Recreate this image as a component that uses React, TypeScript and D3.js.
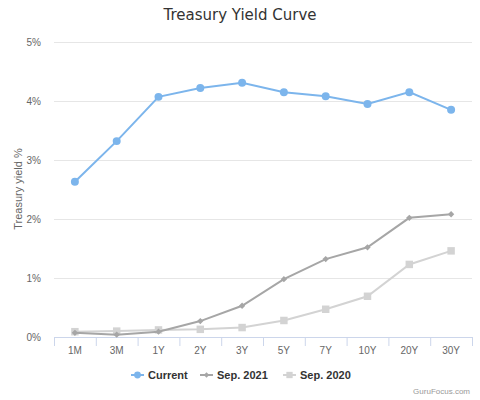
import { useEffect, useRef } from "react"
import * as d3 from "d3"

const maturities = ["1M", "3M", "1Y", "2Y", "3Y", "5Y", "7Y", "10Y", "20Y", "30Y"]
const currentYields = [2.63, 3.32, 4.07, 4.22, 4.31, 4.15, 4.08, 3.95, 4.15, 3.85]
const sep2021Yields = [0.07, 0.04, 0.09, 0.27, 0.53, 0.98, 1.32, 1.52, 2.02, 2.08]
const sep2020Yields = [0.09, 0.1, 0.12, 0.13, 0.16, 0.28, 0.47, 0.69, 1.23, 1.46]
const yTicks = [0, 1, 2, 3, 4, 5]

const TITLE_FONT = "'DejaVu Sans', sans-serif"
const FONT = "'Liberation Sans', Arial, sans-serif"

// Highcharts-like diamond: a square rotated 45 degrees
const diamond = {
  draw(context: any, size: number) {
    const r = Math.sqrt(size) / 2
    context.moveTo(0, -r)
    context.lineTo(r, 0)
    context.lineTo(0, r)
    context.lineTo(-r, 0)
    context.closePath()
  },
}

export default function App() {
  const svgRef = useRef<SVGSVGElement>(null)

  useEffect(() => {
    if (!svgRef.current) return
    d3.select(svgRef.current).selectAll("*").remove()

    const width = 480
    const height = 400
    const margin = { top: 42, right: 8, bottom: 63, left: 54 }
    const plotW = width - margin.left - margin.right
    const plotH = height - margin.top - margin.bottom

    const svg = d3.select(svgRef.current).attr("width", width).attr("height", height)

    svg.append("rect").attr("width", width).attr("height", height).attr("fill", "#ffffff")

    // Title
    svg
      .append("text")
      .attr("x", width / 2)
      .attr("y", 20)
      .attr("text-anchor", "middle")
      .attr("fill", "#333333")
      .style("font-family", TITLE_FONT)
      .style("font-size", "15px")
      .text("Treasury Yield Curve")

    const g = svg.append("g").attr("transform", `translate(${margin.left},${margin.top})`)

    const x = d3.scaleBand<string>().domain(maturities).range([0, plotW])
    const y = d3.scaleLinear().domain([0, 5]).range([plotH, 0])
    const cx = (d: string) => (x(d) ?? 0) + x.bandwidth() / 2

    // Grid lines
    g.append("g")
      .selectAll("line")
      .data(yTicks.filter((t) => t > 0))
      .enter()
      .append("line")
      .attr("x1", 0)
      .attr("x2", plotW)
      .attr("y1", (d) => y(d) + 0.5)
      .attr("y2", (d) => y(d) + 0.5)
      .attr("stroke", "#e6e6e6")
      .attr("stroke-width", 1)

    // Y tick labels
    g.append("g")
      .selectAll("text")
      .data(yTicks)
      .enter()
      .append("text")
      .attr("x", -13)
      .attr("y", (d) => y(d) + 4)
      .attr("text-anchor", "end")
      .attr("fill", "#666666")
      .style("font-family", FONT)
      .style("font-size", "10px")
      .text((d) => `${d}%`)

    // Y axis title
    svg
      .append("text")
      .attr("transform", `translate(22,189) rotate(-90)`)
      .attr("text-anchor", "middle")
      .attr("fill", "#666666")
      .style("font-family", FONT)
      .style("font-size", "11px")
      .text("Treasury yield %")

    // X axis
    const xAxis = g.append("g").attr("transform", `translate(0,${plotH})`)
    xAxis
      .append("line")
      .attr("x1", 0)
      .attr("x2", plotW)
      .attr("y1", 0.5)
      .attr("y2", 0.5)
      .attr("stroke", "#ccd6eb")
    xAxis
      .selectAll(".tick")
      .data([...maturities.map((m) => x(m) ?? 0), plotW])
      .enter()
      .append("line")
      .attr("x1", (d) => d + 0.5)
      .attr("x2", (d) => d + 0.5)
      .attr("y1", 0)
      .attr("y2", 9)
      .attr("stroke", "#ccd6eb")
    xAxis
      .selectAll("text")
      .data(maturities)
      .enter()
      .append("text")
      .attr("x", (d) => cx(d))
      .attr("y", 17)
      .attr("text-anchor", "middle")
      .attr("fill", "#666666")
      .style("font-family", FONT)
      .style("font-size", "10px")
      .text((d) => d)

    const line = d3
      .line<number>()
      .x((_, i) => cx(maturities[i]))
      .y((d) => y(d))

    const series = [
      { name: "Sep. 2020", data: sep2020Yields, color: "#d3d3d3", symbol: d3.symbolSquare, size: 56 },
      { name: "Sep. 2021", data: sep2021Yields, color: "#a6a6a6", symbol: diamond, size: 40 },
      { name: "Current", data: currentYields, color: "#7cb5ec", symbol: d3.symbolCircle, size: 50 },
    ]

    series.forEach((s) => {
      g.append("path")
        .datum(s.data)
        .attr("d", line)
        .attr("fill", "none")
        .attr("stroke", s.color)
        .attr("stroke-width", 2)
      g.append("g")
        .selectAll("path")
        .data(s.data)
        .enter()
        .append("path")
        .attr("transform", (d, i) => `translate(${cx(maturities[i])},${y(d)})`)
        .attr("d", d3.symbol().type(s.symbol as any).size(s.size)())
        .attr("fill", s.color)
    })

    // Legend
    const legendItems = [
      { name: "Current", color: "#7cb5ec", symbol: d3.symbolCircle, size: 36, x: 131 },
      { name: "Sep. 2021", color: "#a6a6a6", symbol: diamond, size: 30, x: 200 },
      { name: "Sep. 2020", color: "#d3d3d3", symbol: d3.symbolSquare, size: 40, x: 283 },
    ]
    const legendY = 375
    legendItems.forEach((item) => {
      const lg = svg.append("g").attr("transform", `translate(${item.x},${legendY})`)
      lg.append("line")
        .attr("x1", 0)
        .attr("x2", 13)
        .attr("y1", 0)
        .attr("y2", 0)
        .attr("stroke", item.color)
        .attr("stroke-width", 2)
      lg.append("path")
        .attr("transform", "translate(6.5,0)")
        .attr("d", d3.symbol().type(item.symbol as any).size(item.size)())
        .attr("fill", item.color)
      lg.append("text")
        .attr("x", 17)
        .attr("y", 4)
        .attr("fill", "#333333")
        .style("font-family", FONT)
        .style("font-size", "11px")
        .style("font-weight", "bold")
        .text(item.name)
    })

    // Credits
    svg
      .append("text")
      .attr("x", width - 10)
      .attr("y", height - 6)
      .attr("text-anchor", "end")
      .attr("fill", "#999999")
      .style("font-family", FONT)
      .style("font-size", "8px")
      .text("GuruFocus.com")
  }, [])

  return (
    <div style={{ position: "absolute", left: 0, top: 0 }}>
      <svg ref={svgRef}></svg>
    </div>
  )
}
